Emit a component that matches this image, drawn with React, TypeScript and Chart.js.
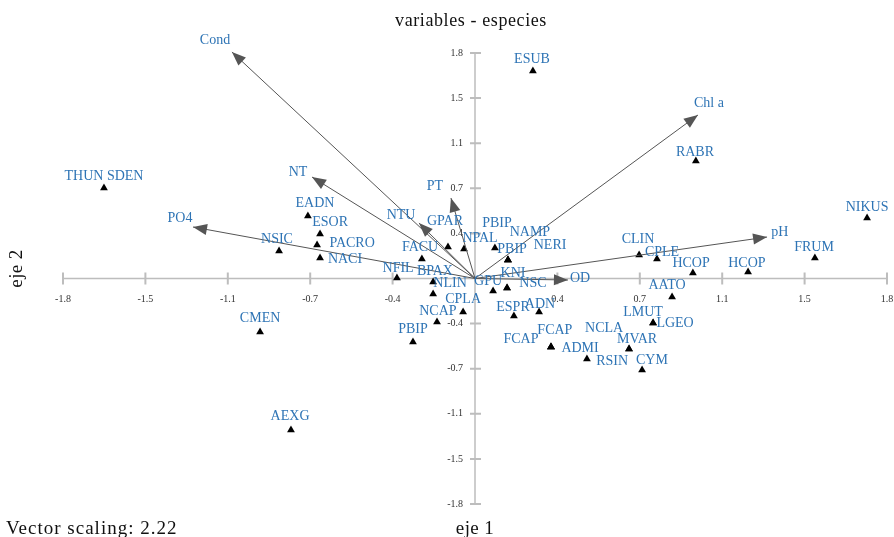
import React, { useEffect, useRef } from "react";
import { Chart, registerables } from "chart.js";

Chart.register(...registerables);

// ---------- data ----------
const speciesNames = [
  "ESUB", "THUN SDEN", "RABR", "NIKUS", "EADN", "ESOR", "PACRO", "NACI", "NSIC", "NFIL",
  "FACU", "BPAX", "NLIN", "CPLA", "NCAP", "PBIP", "CMEN", "AEXG", "GPAR", "NPAL",
  "PBIP", "PBIP", "NAMP", "NERI", "KNI", "GPU", "NSC", "ESPR", "ADN", "FCAP",
  "FCAP", "ADMI", "RSIN", "NCLA", "MVAR", "CYM", "LMUT", "LGEO", "AATO", "CLIN",
  "CPLE", "HCOP", "HCOP", "FRUM",
];
const speciesX = [
  0.253, -1.621, 0.965, 1.713, -0.730, -0.677, -0.690, -0.677, -0.856, -0.341,
  -0.232, -0.183, -0.183, -0.052, -0.166, -0.271, -0.939, -0.804, -0.118, -0.048,
  0.087, 0.144, 0.144, 0.144, 0.140, 0.079, 0.140, 0.170, 0.280, 0.332,
  0.332, 0.332, 0.489, 0.673, 0.673, 0.730, 0.778, 0.778, 0.861, 0.717,
  0.795, 0.952, 1.193, 1.485,
];
const speciesY = [
  1.656, 0.722, 0.938, 0.483, 0.499, 0.355, 0.267, 0.164, 0.219, 0.004,
  0.156, -0.028, -0.124, -0.267, -0.347, -0.507, -0.427, -1.209, 0.251, 0.235,
  0.243, 0.148, 0.148, 0.148, -0.076, -0.100, -0.076, -0.299, -0.267, -0.547,
  -0.547, -0.547, -0.642, -0.563, -0.563, -0.730, -0.355, -0.355, -0.148, 0.188,
  0.156, 0.044, 0.052, 0.164,
];
const speciesLabelX = [
  0.249, -1.621, 0.961, 1.713, -0.699, -0.633, -0.537, -0.568, -0.865, -0.336,
  -0.240, -0.175, -0.109, -0.052, -0.162, -0.271, -0.939, -0.808, -0.131, 0.022,
  0.096, 0.162, 0.240, 0.328, 0.166, 0.057, 0.253, 0.166, 0.284, 0.349,
  0.201, 0.459, 0.599, 0.564, 0.708, 0.773, 0.734, 0.874, 0.839, 0.712,
  0.817, 0.944, 1.188, 1.481,
];
const speciesLabelY = [
  1.752, 0.818, 1.010, 0.571, 0.603, 0.451, 0.283, 0.156, 0.315, 0.084,
  0.251, 0.060, -0.036, -0.164, -0.259, -0.403, -0.315, -1.097, 0.459, 0.323,
  0.443, 0.235, 0.371, 0.267, 0.044, -0.020, -0.036, -0.227, -0.204, -0.411,
  -0.483, -0.555, -0.658, -0.395, -0.483, -0.650, -0.267, -0.355, -0.052, 0.315,
  0.212, 0.124, 0.124, 0.251,
];

const vectorNames = ["Cond", "Chl a", "NT", "PO4", "PT", "NTU", "pH", "OD"];
const vectorX = [-1.062, 0.974, -0.712, -1.232, -0.105, -0.245, 1.276, 0.406];
const vectorY = [1.808, 1.305, 0.810, 0.411, 0.642, 0.443, 0.331, -0.012];
const vectorLabelX = [-1.136, 1.022, -0.773, -1.289, -0.175, -0.323, 1.332, 0.459];
const vectorLabelY = [1.904, 1.401, 0.850, 0.483, 0.738, 0.507, 0.371, 0.0];

const xTickValues = [-1.8, -1.44, -1.08, -0.72, -0.36, 0, 0.36, 0.72, 1.08, 1.44, 1.8];
const xTickLabels = ["-1.8", "-1.5", "-1.1", "-0.7", "-0.4", "", "0.4", "0.7", "1.1", "1.5", "1.8"];
const yTickValues = [-1.8, -1.44, -1.08, -0.72, -0.36, 0, 0.36, 0.72, 1.08, 1.44, 1.8];
const yTickLabels = ["-1.8", "-1.5", "-1.1", "-0.7", "-0.4", "", "0.4", "0.7", "1.1", "1.5", "1.8"];

const titleText = "variables - especies";
const xTitle = "eje 1";
const yTitle = "eje 2";
const noteText = "Vector scaling: 2.22";

// ---------- styles ----------
const FONT = '"Liberation Serif", "Times New Roman", serif';
const LABEL_COLOR = "#2E74B5";
const ARROW_COLOR = "#555555";
const AXIS_COLOR = "#BDBDBD";

const biplotPlugin = {
  id: "biplot",
  beforeDatasetsDraw(chart: any) {
    const { ctx } = chart;
    const xs = chart.scales.x;
    const ys = chart.scales.y;
    const x0 = xs.getPixelForValue(0);
    const y0 = ys.getPixelForValue(0);
    ctx.save();
    ctx.strokeStyle = AXIS_COLOR;
    ctx.lineWidth = 1.5;
    ctx.beginPath();
    ctx.moveTo(xs.getPixelForValue(xTickValues[0]), y0);
    ctx.lineTo(xs.getPixelForValue(xTickValues[xTickValues.length - 1]), y0);
    ctx.moveTo(x0, ys.getPixelForValue(yTickValues[0]));
    ctx.lineTo(x0, ys.getPixelForValue(yTickValues[yTickValues.length - 1]));
    ctx.stroke();
    ctx.lineWidth = 2;
    ctx.beginPath();
    xTickValues.forEach((v) => {
      if (v === 0) return;
      const px = xs.getPixelForValue(v);
      ctx.moveTo(px, y0 - 6);
      ctx.lineTo(px, y0 + 6);
    });
    yTickValues.forEach((v) => {
      if (v === 0) return;
      const py = ys.getPixelForValue(v);
      ctx.moveTo(x0 - 5, py);
      ctx.lineTo(x0 + 6, py);
    });
    ctx.stroke();
    ctx.fillStyle = "#333";
    ctx.font = `10px ${FONT}`;
    ctx.textBaseline = "middle";
    ctx.textAlign = "center";
    xTickValues.forEach((v, i) => {
      ctx.fillText(xTickLabels[i], xs.getPixelForValue(v), y0 + 21);
    });
    ctx.textAlign = "right";
    yTickValues.forEach((v, i) => {
      ctx.fillText(yTickLabels[i], x0 - 12, ys.getPixelForValue(v));
    });
    ctx.restore();
  },
  afterDatasetsDraw(chart: any) {
    const { ctx } = chart;
    const xs = chart.scales.x;
    const ys = chart.scales.y;
    const x0 = xs.getPixelForValue(0);
    const y0 = ys.getPixelForValue(0);
    ctx.save();
    // arrowheads
    ctx.fillStyle = ARROW_COLOR;
    vectorX.forEach((vx, i) => {
      const tx = xs.getPixelForValue(vx);
      const ty = ys.getPixelForValue(vectorY[i]);
      const ang = Math.atan2(ty - y0, tx - x0);
      const len = 14;
      const hw = 5.5;
      const bx = tx - len * Math.cos(ang);
      const by = ty - len * Math.sin(ang);
      ctx.beginPath();
      ctx.moveTo(tx, ty);
      ctx.lineTo(bx + hw * Math.sin(ang), by - hw * Math.cos(ang));
      ctx.lineTo(bx - hw * Math.sin(ang), by + hw * Math.cos(ang));
      ctx.closePath();
      ctx.fill();
    });
    // labels
    ctx.fillStyle = LABEL_COLOR;
    ctx.font = `14px ${FONT}`;
    ctx.textAlign = "center";
    ctx.textBaseline = "middle";
    vectorNames.forEach((n, i) => {
      ctx.fillText(n, xs.getPixelForValue(vectorLabelX[i]), ys.getPixelForValue(vectorLabelY[i]));
    });
    speciesNames.forEach((n, i) => {
      ctx.fillText(n, xs.getPixelForValue(speciesLabelX[i]), ys.getPixelForValue(speciesLabelY[i]));
    });
    // titles
    ctx.fillStyle = "#111";
    (ctx as any).letterSpacing = "0.6px";
    ctx.font = `18px ${FONT}`;
    ctx.fillText(titleText, 471, 21);
    (ctx as any).letterSpacing = "0.4px";
    ctx.font = `19px ${FONT}`;
    ctx.fillText(xTitle, x0, 529);
    ctx.textAlign = "left";
    (ctx as any).letterSpacing = "1px";
    ctx.font = `19px ${FONT}`;
    ctx.fillText(noteText, 6, 529);
    ctx.save();
    ctx.translate(17, y0 - 10);
    ctx.rotate(-Math.PI / 2);
    ctx.textAlign = "center";
    (ctx as any).letterSpacing = "0.4px";
    ctx.font = `19px ${FONT}`;
    ctx.fillText(yTitle, 0, 0);
    ctx.restore();
    ctx.restore();
  },
};

export default function App() {
  const ref = useRef<HTMLCanvasElement | null>(null);
  useEffect(() => {
    if (!ref.current) return;
    const vectorDatasets = vectorNames.map((n, i) => ({
      label: n,
      data: [
        { x: 0, y: 0 },
        { x: vectorX[i], y: vectorY[i] },
      ],
      showLine: true,
      borderColor: ARROW_COLOR,
      borderWidth: 1,
      pointRadius: 0,
      clip: false as any,
    }));
    const chart = new Chart(ref.current, {
      type: "scatter",
      data: {
        datasets: [
          ...vectorDatasets,
          {
            label: "especies",
            data: speciesX.map((x, i) => ({ x, y: speciesY[i] })),
            pointStyle: "triangle",
            pointRadius: 4.5,
            backgroundColor: "#000",
            borderColor: "#000",
            borderWidth: 0,
            clip: false as any,
          },
        ],
      },
      options: {
        animation: false,
        responsive: false,
        layout: { padding: { left: 63, right: 7, top: 53, bottom: 33 } },
        scales: {
          x: { type: "linear", min: -1.8, max: 1.8, display: false },
          y: { type: "linear", min: -1.8, max: 1.8, display: false },
        },
        plugins: {
          legend: { display: false },
          tooltip: { enabled: false },
          title: { display: false },
        },
      },
      plugins: [biplotPlugin],
    });
    return () => chart.destroy();
  }, []);
  return (
    <div style={{ position: "absolute", left: 0, top: 0, width: 894, height: 537, background: "#fff" }}>
      <canvas ref={ref} width={894} height={537} />
    </div>
  );
}
